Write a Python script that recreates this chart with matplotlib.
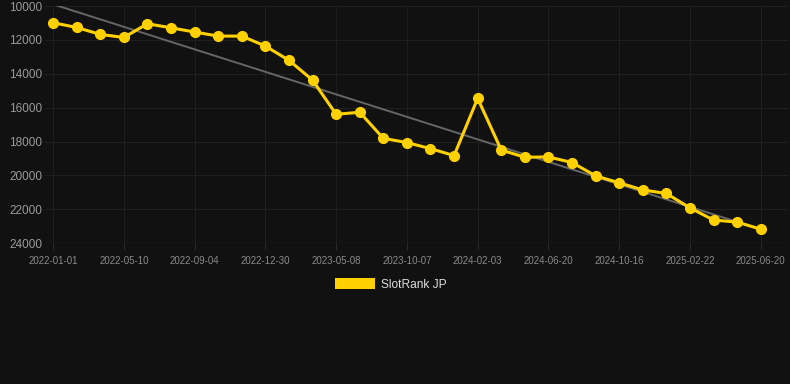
import numpy as np
import matplotlib
matplotlib.use("Agg")
import matplotlib.pyplot as plt
from matplotlib.patches import Patch

plt.rcParams['font.family'] = ['Liberation Sans', 'DejaVu Sans']

# Ранг гри по точках (кожна третя точка має підпис дати)
tick_dates = ["2022-01-01", "2022-05-10", "2022-09-04", "2022-12-30", "2023-05-08",
              "2023-10-07", "2024-02-03", "2024-06-20", "2024-10-16", "2025-02-22",
              "2025-06-20"]
rank = [10980, 11260, 11670, 11850, 11040, 11280, 11530, 11770, 11770, 12360,
        13200, 14370, 16390, 16270, 17810, 18060, 18420, 18830, 15450, 18500,
        18930, 18910, 19240, 20030, 20440, 20860, 21070, 21920, 22640, 22760,
        23180]
series_name = "SlotRank JP"

bg = "#111111"
gold = "#FFD100"

x = np.arange(len(rank))
# лінія тренду - проста лінійна регресія
k, b = np.polyfit(x, rank, 1)

fig = plt.figure(figsize=(7.9, 3.84), dpi=100, facecolor=bg)
ax = fig.add_axes([0.057, 0.367, 0.940, 0.617])
ax.set_facecolor(bg)

ax.plot(x, k * x + b, color="#666666", lw=1.4, zorder=2)
ax.plot(x, rank, color=gold, lw=2.2, marker="o", ms=7, zorder=3)

ax.set_xlim(-0.34, 31.14)
ax.set_ylim(24000, 10000)
ax.set_yticks(range(10000, 24001, 2000))
ax.set_xticks(x[::3])
ax.set_xticklabels(tick_dates)

ax.grid(True, color="#1f1f1f", lw=0.8, zorder=0)
for s in ax.spines.values():
    s.set_visible(False)
ax.axhline(24000, color="#2a2a2a", lw=1, zorder=1)

ax.tick_params(axis="y", length=0, pad=2, labelsize=8.5, labelcolor="#9a9a9a")
ax.tick_params(axis="x", length=5, color="#2a2a2a", pad=4, labelsize=7, labelcolor="#8a8a8a")

fig.legend(handles=[Patch(facecolor=gold, edgecolor="none", label=series_name)],
           loc="center", bbox_to_anchor=(0.495, 0.259), frameon=False,
           handlelength=3.3, handleheight=1.0, handletextpad=0.55,
           fontsize=8.6, labelcolor="#dddddd")

fig.savefig("out.png", dpi=100, facecolor=bg)
